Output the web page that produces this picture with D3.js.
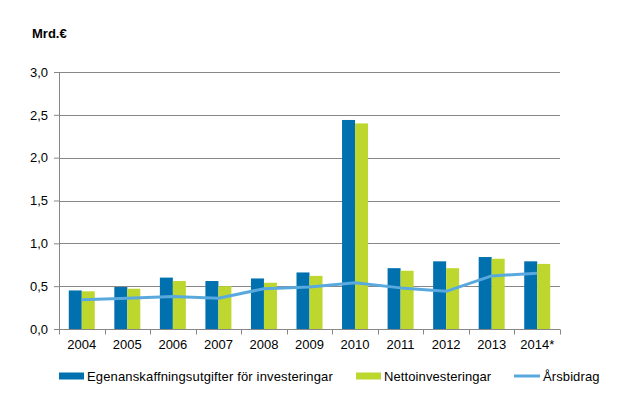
<!DOCTYPE html>
<html>
<head>
<meta charset="utf-8">
<script src="https://cdnjs.cloudflare.com/ajax/libs/d3/7.8.5/d3.min.js"></script>
<style>
  body { margin: 0; background: #fff; }
  svg { font-family: "Liberation Sans", Arial, sans-serif; }
</style>
</head>
<body>
<div id="chart"></div>
<script>
	// data
	var years = ["2004", "2005", "2006", "2007", "2008", "2009", "2010", "2011", "2012", "2013", "2014*"];
	var anskaffning = [0.45, 0.49, 0.60, 0.56, 0.59, 0.66, 2.44, 0.71, 0.79, 0.84, 0.79];
	var netto = [0.44, 0.47, 0.56, 0.50, 0.54, 0.62, 2.40, 0.68, 0.71, 0.82, 0.76];
	var arsbidrag = [0.34, 0.36, 0.38, 0.36, 0.47, 0.49, 0.54, 0.48, 0.44, 0.62, 0.65];
	var yTicks = [0, 0.5, 1.0, 1.5, 2.0, 2.5, 3.0];
	var seriesNames = ["Egenanskaffningsutgifter för investeringar", "Nettoinvesteringar", "Årsbidrag"];

	var colBlue = "#0070AE", colGreen = "#BED72F", colLine = "#5AA9DE";

	var width = 624, height = 401;
	var margin = { left: 59, right: 64, top: 72, bottom: 72 };
	var pw = width - margin.left - margin.right,
		ph = height - margin.top - margin.bottom;

	var svg = d3.select("#chart")
		.append("svg")
			.attr("width", width)
			.attr("height", height);

	var g = svg.append("g")
		.attr("transform", "translate(" + margin.left + "," + margin.top + ")");

	var x = d3.scaleBand()
		.domain(years)
		.range([0, pw]);
	var y = d3.scaleLinear()
		.domain([0, 3])
		.range([ph, 0]);

	// gridlines
	g.selectAll(".grid")
		.data(yTicks.slice(1))
		.enter().append("line")
			.attr("x1", 0)
			.attr("x2", pw)
			.attr("y1", function(d) { return Math.round(y(d)) + 0.5; })
			.attr("y2", function(d) { return Math.round(y(d)) + 0.5; })
			.attr("stroke", "#878787")
			.attr("stroke-width", 1);

	// bars
	var bw = 13;
	g.selectAll(".b1")
		.data(anskaffning)
		.enter().append("rect")
			.attr("x", function(d, i) { return x(years[i]) + x.bandwidth() / 2 - bw; })
			.attr("y", function(d) { return y(d); })
			.attr("width", bw)
			.attr("height", function(d) { return ph - y(d); })
			.attr("fill", colBlue);

	g.selectAll(".b2")
		.data(netto)
		.enter().append("rect")
			.attr("x", function(d, i) { return x(years[i]) + x.bandwidth() / 2; })
			.attr("y", function(d) { return y(d); })
			.attr("width", bw)
			.attr("height", function(d) { return ph - y(d); })
			.attr("fill", colGreen);

	// line
	var line = d3.line()
		.x(function(d, i) { return x(years[i]) + x.bandwidth() / 2; })
		.y(function(d) { return y(d); });
	g.append("path")
		.datum(arsbidrag)
		.attr("d", line)
		.attr("fill", "none")
		.attr("stroke", colLine)
		.attr("stroke-width", 3)
		.attr("stroke-linejoin", "round");

	// y axis
	var yAxis = g.append("g")
		.call(d3.axisLeft(y).tickValues(yTicks).tickSize(5)
			.tickFormat(function(d) { return d3.format(".1f")(d).replace(".", ","); }));
	yAxis.select(".domain").attr("d", "M0.5,0V" + ph).attr("stroke", "#878787");
	yAxis.selectAll(".tick line").attr("stroke", "#878787").attr("x1", 0.5).attr("x2", -5);
	yAxis.selectAll(".tick text")
		.attr("x", -11)
		.attr("font-size", "13px")
		.attr("fill", "#000");

	// x axis
	var xAxis = g.append("g")
		.attr("transform", "translate(0," + (Math.round(ph) + 0.5) + ")")
		.call(d3.axisBottom(x).tickSize(0).tickPadding(10));
	xAxis.select(".domain").attr("stroke", "#878787").attr("d", "M0,0H" + pw);
	xAxis.selectAll(".tick text")
		.attr("font-size", "13px")
		.attr("fill", "#000");
	xAxis.selectAll(".sep")
		.data(d3.range(years.length + 1))
		.enter().append("line")
			.attr("x1", function(i) { return Math.round(i * x.step()) + 0.5; })
			.attr("x2", function(i) { return Math.round(i * x.step()) + 0.5; })
			.attr("y1", 0)
			.attr("y2", 5)
			.attr("stroke", "#878787");

	// unit label
	svg.append("text")
		.attr("x", 32)
		.attr("y", 38)
		.attr("font-size", "13px")
		.attr("font-weight", "bold")
		.text("Mrd.€");

	// legend
	var legend = svg.append("g");
	var legX = [59, 356, 514];
	seriesNames.forEach(function(name, i) {
		var row = legend.append("g")
			.attr("transform", "translate(" + legX[i] + ",376)");
		if (i < 2) {
			row.append("rect")
				.attr("x", 0)
				.attr("y", -3.5)
				.attr("width", 25)
				.attr("height", 7)
				.attr("fill", i == 0 ? colBlue : colGreen);
		} else {
			row.append("line")
				.attr("x1", 0)
				.attr("x2", 26)
				.attr("stroke", colLine)
				.attr("stroke-width", 3);
		}
		row.append("text")
			.attr("x", i == 2 ? 29 : 28)
			.attr("y", 4.5)
			.attr("font-size", "13px")
			.attr("letter-spacing", i == 0 ? "0.15px" : "0.1px")
			.text(name);
	});
</script>
</body>
</html>
